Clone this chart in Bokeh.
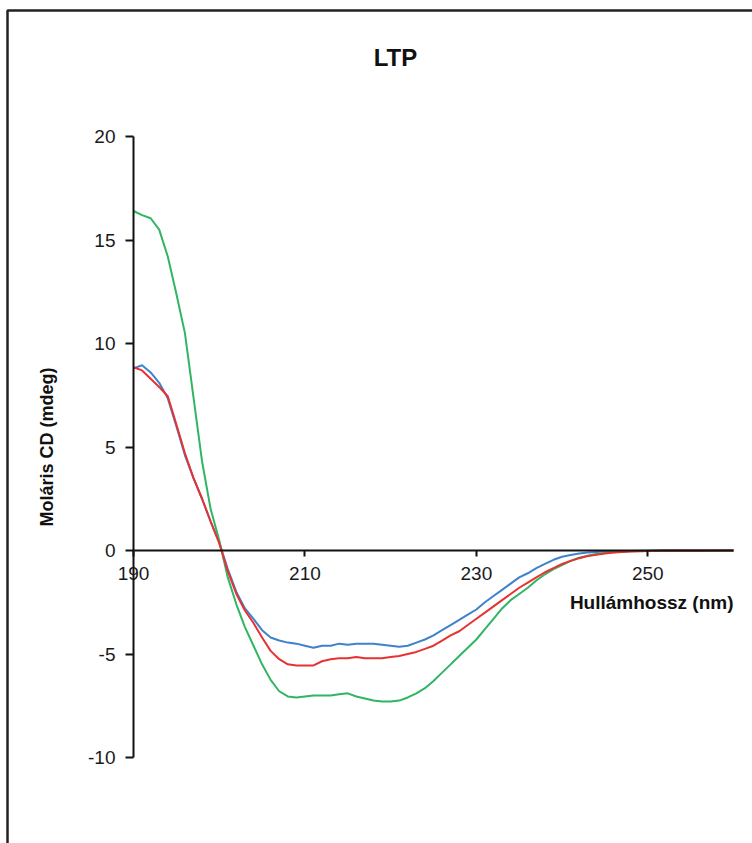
from bokeh.plotting import figure
from bokeh.models import FixedTicker, Label, BoxAnnotation, Range1d, LinearAxis
from bokeh.embed import file_html
from bokeh.resources import INLINE

# ---- data ----
wavelength = list(range(190, 247)) + list(range(248, 261, 2))

blue_cd = [
    8.8, 8.95, 8.6, 8.1, 7.35, 6.0, 4.6, 3.5, 2.5, 1.4,
    0.4, -0.9, -2.0, -2.8, -3.3, -3.85, -4.2, -4.35, -4.45, -4.5,
    -4.6, -4.7, -4.6, -4.6, -4.5, -4.55, -4.5, -4.5, -4.5, -4.55,
    -4.6, -4.65, -4.6, -4.45, -4.3, -4.1, -3.85, -3.6, -3.35, -3.1,
    -2.85, -2.5, -2.2, -1.9, -1.6, -1.3, -1.1, -0.85, -0.65, -0.45,
    -0.3, -0.22, -0.15, -0.1, -0.07, -0.05, -0.03,
    -0.02, -0.01, 0.0, 0.0, 0.0, 0.0, 0.0,
]

red_cd = [
    8.85, 8.7, 8.3, 7.9, 7.45, 6.1, 4.7, 3.5, 2.5, 1.4,
    0.35, -1.0, -2.1, -2.9, -3.5, -4.2, -4.85, -5.25, -5.5, -5.55,
    -5.55, -5.55, -5.35, -5.25, -5.2, -5.2, -5.15, -5.2, -5.2, -5.2,
    -5.15, -5.1, -5.0, -4.9, -4.75, -4.6, -4.35, -4.1, -3.9, -3.6,
    -3.3, -3.0, -2.7, -2.4, -2.1, -1.8, -1.55, -1.3, -1.05, -0.85,
    -0.65, -0.5, -0.37, -0.27, -0.2, -0.14, -0.1,
    -0.05, -0.02, -0.01, 0.0, -0.01, 0.0, 0.0,
]

green_cd = [
    16.4, 16.2, 16.05, 15.5, 14.2, 12.4, 10.5, 7.4, 4.3, 2.0,
    0.5, -1.3, -2.6, -3.7, -4.6, -5.5, -6.25, -6.8, -7.05, -7.1,
    -7.05, -7.0, -7.0, -7.0, -6.95, -6.9, -7.05, -7.15, -7.25, -7.3,
    -7.3, -7.25, -7.1, -6.9, -6.65, -6.3, -5.9, -5.5, -5.1, -4.7,
    -4.3, -3.8, -3.3, -2.8, -2.4, -2.1, -1.8, -1.45, -1.15, -0.9,
    -0.7, -0.5, -0.35, -0.25, -0.17, -0.12, -0.08,
    -0.04, -0.02, 0.0, -0.01, 0.0, -0.01, 0.0,
]

x_ticks = [190, 210, 230, 250]
y_ticks = [-10, -5, 0, 5, 10, 15, 20]
y_tick_text = {-10: "-10", -5: "-5"}

title_text = "LTP"
x_label = "Hullámhossz (nm)"
y_label = "Moláris CD (mdeg)"

FONT = "Liberation Sans"

# canvas-wide frame; data window 190..260 x -10..20 placed inside it
W, H = 752, 843
x0_px, x1_px = 133, 733
y_top_px, y_bot_px = 136, 757
sx = (260 - 190) / (x1_px - x0_px)
sy = (20 - (-10)) / (y_bot_px - y_top_px)

p = figure(
    width=W, height=H, min_border=0,
    x_range=Range1d(190 - x0_px * sx, 260 + (W - x1_px) * sx),
    y_range=Range1d(-10 - (H - y_bot_px) * sy, 20 + y_top_px * sy),
    x_axis_location=None, y_axis_location=None,
    output_backend="svg", toolbar_location=None,
)
p.background_fill_color = "white"
p.border_fill_color = "white"
p.outline_line_color = None
p.xgrid.visible = False
p.ygrid.visible = False

xa = LinearAxis(fixed_location=0, bounds=(190, 260))
xa.ticker = FixedTicker(ticks=x_ticks)
xa.minor_tick_line_color = None
xa.major_tick_in = 0
xa.major_tick_out = 6
xa.major_tick_line_width = 2
xa.axis_line_width = 2
xa.axis_line_color = "#111111"
xa.major_tick_line_color = "#111111"
xa.major_label_standoff = 10
xa.major_label_text_font = FONT
xa.major_label_text_font_size = "19px"
xa.major_label_text_color = "#1a1a1a"
p.add_layout(xa, "below")

ya = LinearAxis(fixed_location=190, bounds=(-10, 20))
ya.ticker = FixedTicker(ticks=y_ticks)
ya.major_label_overrides = y_tick_text
ya.minor_tick_line_color = None
ya.major_tick_in = 0
ya.major_tick_out = 8
ya.major_tick_line_width = 2
ya.axis_line_width = 2
ya.axis_line_color = "#111111"
ya.major_tick_line_color = "#111111"
ya.major_label_standoff = 10
ya.major_label_text_font = FONT
ya.major_label_text_font_size = "19px"
ya.major_label_text_color = "#1a1a1a"
ya.axis_label = y_label
ya.axis_label_text_font = FONT
ya.axis_label_text_font_style = "bold"
ya.axis_label_text_font_size = "18px"
ya.axis_label_text_color = "#111111"
ya.axis_label_standoff = 28
p.add_layout(ya, "left")

p.line(wavelength, blue_cd, line_color="#3f82cc", line_width=2)
p.line(wavelength, green_cd, line_color="#30b562", line_width=2)
p.line(wavelength, red_cd, line_color="#e83232", line_width=2)

p.add_layout(Label(x=260, y=-2.5, text=x_label, text_align="right", text_baseline="middle",
                   text_font=FONT, text_font_style="bold", text_font_size="19px",
                   text_color="#111111"))
p.add_layout(Label(x=190 + (395 - x0_px) * sx, y=20 + (y_top_px - 57) * sy, text=title_text,
                   text_align="center", text_baseline="middle",
                   text_font=FONT, text_font_style="bold", text_font_size="24px",
                   text_color="#111111"))

# outer frame border (only its top and left edges fall inside the picture)
p.add_layout(BoxAnnotation(left=190 - (x0_px - 7) * sx, top=20 + (y_top_px - 10) * sy,
                           right=300, bottom=-40,
                           fill_alpha=0, line_color="#222222", line_alpha=1.0,
                           line_width=2.5))

open("out.html", "w").write(file_html(p, INLINE))
